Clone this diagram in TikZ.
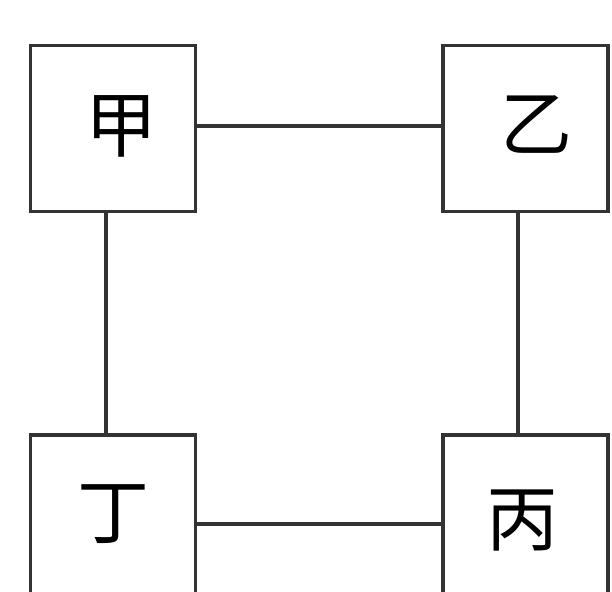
\documentclass[tikz,border=0pt]{standalone}
\usepackage{fontspec}
\newfontfamily\cjk{Noto Sans CJK SC}
\begin{document}
\begin{tikzpicture}[
	x=1pt,
	y=-1pt,
	box/.style={
		rectangle,
		draw=black!80,
		line width=3.8pt,
		align=center,
		inner sep=0pt,
		font=\cjk\fontsize{72}{72}\selectfont,
		text depth=0pt,
		minimum width=165pt,
		minimum height=166pt
	},
	label/.style={
		inner sep=0pt,
		font=\cjk\fontsize{72}{72}\selectfont
	},
	link/.style={
		draw=black!80,
		line width=3.8pt
	},
]

\useasboundingbox (0, 0) rectangle (612, 591);
\clip (0, 0) rectangle (612, 591);

\node[box] (jia) at (113, 128.5) {};
\node[box] (yi) at (525.5, 128.5) {};
\node[box] (ding) at (113, 518) {};
\node[box] (bing) at (525.5, 518) {};

\node[label] (jiatext) at (121, 126) {甲};
\node[label] (yitext) at (536, 125) {乙};
\node[label] (dingtext) at (113, 514) {丁};
\node[label] (bingtext) at (522, 521) {丙};

\draw[link] ([yshift=2.5pt]jia.east) -- ([yshift=2.5pt]yi.west);
\draw[link] ([xshift=-7pt]jia.south) -- ([xshift=-7pt]ding.north);
\draw[link] ([xshift=-7.5pt]yi.south) -- ([xshift=-7.5pt]bing.north);
\draw[link] ([yshift=-6pt]ding.east) -- ([yshift=-6pt]bing.west);

\end{tikzpicture}
\end{document}
